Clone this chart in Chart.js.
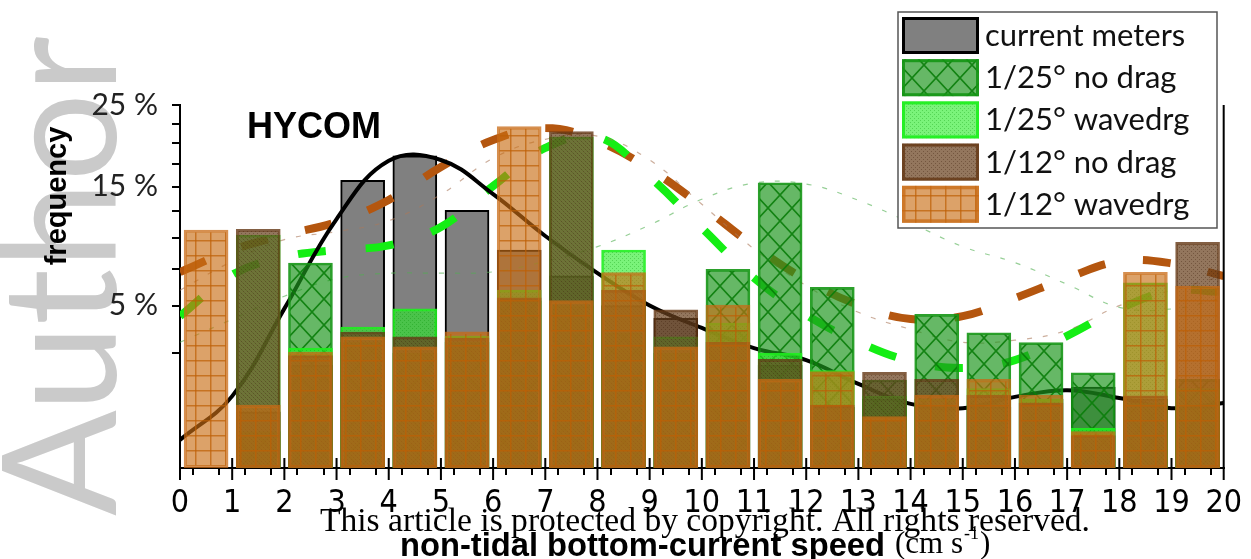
<!DOCTYPE html>
<html>
<head>
<meta charset="utf-8">
<script src="https://cdn.jsdelivr.net/npm/chart.js@4.4.1/dist/chart.umd.min.js"></script>
<style>
  html, body { margin: 0; padding: 0; background: #fff; }
</style>
</head>
<body>
<canvas id="chart" width="1251" height="559"></canvas>
<script>
// histogram bins (left edge, cm/s) and frequencies in %
const speedBins = [0, 1, 2, 3, 4, 5, 6, 7, 8, 9, 10, 11, 12, 13, 14, 15, 16, 17, 18, 19];
const currentMeters = [0, 0.6, 2.0, 15.7, 18.5, 12.6, 9.0, 7.0, 5.0, 4.25, 3.6, 2.0, 0.7, 0.9, 0.7, 0.7, 0.9, 1.24, 0.9, 0.7];
const noDrag25 = [0, 0.25, 7.97, 3.0, 2.5, 3.0, 5.3, 5.0, 3.47, 2.5, 7.49, 15.44, 6.19, 1.47, 4.48, 3.47, 2.98, 1.72, 0.8, 1.49];
const waveDrag25 = [0, 10.3, 2.73, 3.77, 4.8, 3.3, 6.0, 20.8, 9.02, 3.27, 3.99, 2.5, 1.8, 0.98, 0.9, 1.2, 0.9, 0.3, 6.51, 1.2];
const noDrag12 = [0, 10.8, 2.4, 3.51, 3.26, 3.2, 5.5, 21.46, 6.0, 4.74, 3.0, 2.24, 0.75, 1.74, 1.49, 1.0, 0.8, 0.2, 0.99, 9.66];
const waveDrag12 = [10.75, 0.75, 2.55, 3.26, 2.79, 3.52, 22.1, 5.31, 7.24, 2.79, 5.04, 1.49, 1.76, 0.5, 1.01, 1.49, 1.01, 0.25, 7.27, 6.28];

// fitted distributions
const fitSpeed = [0, 1, 2, 3, 4, 5, 6, 7, 8, 9, 10, 11, 12, 13, 14, 15, 16, 17, 18, 19, 20];
const fitMeters = [0.15, 0.98, 4.82, 11.76, 17.9, 18.0, 14.24, 10.21, 7.21, 5.01, 3.72, 2.73, 2.21, 1.34, 0.78, 0.68, 0.96, 1.15, 0.93, 0.68, 0.8];
const fitNoDrag25 = [3.0, 4.2, 5.6, 6.8, 7.2, 7.2, 7.3, 8.1, 9.3, 11.2, 13.7, 15.4, 15.3, 13.6, 11.4, 9.3, 8.0, 6.4, 4.9, 4.8, 5.5];
const fitWaveDrag25 = [4.38, 7.09, 8.45, 9.02, 9.4, 11.02, 15.09, 19.43, 20.79, 16.07, 10.93, 6.85, 4.44, 3.01, 2.17, 1.9, 2.21, 3.31, 4.8, 5.94, 5.88];
const fitNoDrag12 = [6.0, 8.1, 9.9, 10.6, 11.6, 14.2, 18.2, 20.5, 20.9, 18.0, 13.2, 9.1, 6.3, 4.6, 3.65, 3.0, 3.1, 3.6, 5.0, 6.0, 7.0];
const fitWaveDrag12 = [7.29, 9.02, 10.3, 11.48, 13.63, 17.19, 20.41, 21.93, 20.29, 16.96, 13.02, 9.35, 6.71, 5.04, 4.21, 4.38, 5.48, 6.85, 8.1, 7.95, 6.99];

// axis ticks
const xTickValues = [0, 0.5, 1, 1.5, 2, 2.5, 3, 3.5, 4, 4.5, 5, 5.5, 6, 6.5, 7, 7.5, 8, 8.5, 9, 9.5, 10,
  10.5, 11, 11.5, 12, 12.5, 13, 13.5, 14, 14.5, 15, 15.5, 16, 16.5, 17, 17.5, 18, 18.5, 19, 19.5, 20];
const yTickValues = [2.5, 5, 7.5, 10, 12.5, 15, 17.5, 20, 22.5, 25];
const yLabelValues = [5, 15, 25];

// square-root frequency axis
class SqrtScale extends Chart.LinearScale {
    getPixelForValue(value) {
        const lo = Math.sqrt(this.min), hi = Math.sqrt(this.max);
        return this.getPixelForDecimal((Math.sqrt(Math.max(value, 0)) - lo) / (hi - lo));
    }
    getValueForPixel(pixel) {
        const lo = Math.sqrt(this.min), hi = Math.sqrt(this.max);
        const s = lo + this.getDecimalForPixel(pixel) * (hi - lo);
        return s * s;
    }
}
SqrtScale.id = 'sqrt';
SqrtScale.defaults = Chart.LinearScale.defaults;
Chart.register(SqrtScale);

function makePattern(w, h, paint) {
    const c = document.createElement('canvas');
    c.width = w; c.height = h;
    const g = c.getContext('2d');
    paint(g, w, h);
    return g.createPattern(c, 'repeat');
}

const crossGreen = makePattern(24, 26, (g, w, h) => {
    g.fillStyle = 'rgba(30,150,30,0.68)';
    g.fillRect(0, 0, w, h);
    g.strokeStyle = 'rgba(10,125,10,0.9)';
    g.lineWidth = 1.6;
    g.beginPath();
    g.moveTo(0, 0); g.lineTo(w, h);
    g.moveTo(w, 0); g.lineTo(0, h);
    g.stroke();
});
const stippleGreen = makePattern(4, 4, (g, w, h) => {
    g.fillStyle = 'rgba(40,235,40,0.62)';
    g.fillRect(0, 0, w, h);
    g.fillStyle = 'rgba(0,140,0,0.3)';
    g.fillRect(0, 0, 1, 1); g.fillRect(2, 2, 1, 1);
});
const stippleBrown = makePattern(4, 4, (g, w, h) => {
    g.fillStyle = 'rgba(105,65,30,0.72)';
    g.fillRect(0, 0, w, h);
    g.fillStyle = 'rgba(60,30,10,0.35)';
    g.fillRect(1, 1, 1, 1); g.fillRect(3, 3, 1, 1);
});
const gridOrange = makePattern(15, 15, (g, w, h) => {
    g.fillStyle = 'rgba(200,110,20,0.64)';
    g.fillRect(0, 0, w, h);
    g.fillStyle = 'rgba(190,95,5,0.7)';
    g.fillRect(0, 0, w, 1.5);
    g.fillRect(0, 0, 1.5, h);
});

const binPoints = vals => speedBins.map((b, i) => ({ x: b + 0.5, y: vals[i] }));
const fitPoints = vals => fitSpeed.map((s, i) => ({ x: s, y: vals[i] }));

function barSet(label, vals, bg, border, bw, order) {
    return { type: 'bar', label, data: binPoints(vals), backgroundColor: bg, borderColor: border,
             borderWidth: bw, borderSkipped: false, barThickness: 44, grouped: false, order };
}
function lineSet(label, vals, color, width, dash) {
    return { type: 'line', label, data: fitPoints(vals), borderColor: color, borderWidth: width,
             borderDash: dash, pointRadius: 0, tension: 0.4, fill: false, order: 5, isFit: true };
}

const datasets = [
    barSet('current meters', currentMeters, '#808080', '#000000', 2, 6),
    barSet('1/25° no drag', noDrag25, crossGreen, 'rgba(20,150,20,0.9)', 2, 4),
    barSet('1/25° wavedrg', waveDrag25, stippleGreen, 'rgba(30,240,30,0.9)', 2, 3),
    barSet('1/12° no drag', noDrag12, stippleBrown, 'rgba(100,55,20,0.8)', 2, 2),
    barSet('1/12° wavedrg', waveDrag12, gridOrange, 'rgba(200,105,20,0.75)', 2.5, 1),
    lineSet('fit meters', fitMeters, '#000000', 4, []),
    lineSet('fit 1/25 no drag', fitNoDrag25, 'rgba(80,175,80,0.6)', 1.2, [5, 11]),
    lineSet('fit 1/12 no drag', fitNoDrag12, 'rgba(170,120,90,0.6)', 1.2, [5, 11]),
    lineSet('fit 1/25 wavedrg', fitWaveDrag25, '#14ee14', 8, [28, 40]),
    lineSet('fit 1/12 wavedrg', fitWaveDrag12, '#b4560f', 8, [28, 38])
];

const decor = {
    id: 'decor',
    beforeDraw(chart) {
        const ctx = chart.ctx;
        ctx.save();
        ctx.fillStyle = '#fff';
        ctx.fillRect(0, 0, chart.width, chart.height);
        // watermark
        ctx.translate(116, 516);
        ctx.rotate(-Math.PI / 2);
        ctx.font = '160px Lato';
        const w = ctx.measureText('Author').width;
        ctx.scale(480 / w, 1);
        ctx.fillStyle = '#cacaca';
        ctx.textBaseline = 'alphabetic';
        ctx.fillText('Author', 0, 0);
        ctx.restore();
    },
    afterDraw(chart) {
        const ctx = chart.ctx;
        const area = chart.chartArea;
        const xs = chart.scales.x;
        ctx.save();

        // right frame line and long integer ticks
        ctx.strokeStyle = '#000';
        ctx.lineWidth = 2;
        ctx.beginPath();
        ctx.moveTo(area.right, area.top);
        ctx.lineTo(area.right, area.bottom);
        fitSpeed.forEach(v => {
            const px = xs.getPixelForValue(v);
            ctx.moveTo(px, area.bottom - 10);
            ctx.lineTo(px, area.bottom + 12);
        });
        ctx.stroke();

        // panel label
        ctx.fillStyle = '#000';
        ctx.font = 'bold 36px "Liberation Sans", Arial, sans-serif';
        ctx.textAlign = 'center';
        ctx.textBaseline = 'middle';
        ctx.fillText('HYCOM', 314, 128);

        // y title
        ctx.save();
        ctx.translate(58, 196);
        ctx.rotate(-Math.PI / 2);
        ctx.font = 'bold 29px "Liberation Sans", Arial, sans-serif';
        ctx.fillText('frequency', 0, 0);
        ctx.restore();

        // x title
        ctx.textAlign = 'left';
        ctx.textBaseline = 'alphabetic';
        ctx.font = 'bold 33px "Liberation Sans", Arial, sans-serif';
        const bold = 'non-tidal bottom-current speed';
        const bw = ctx.measureText(bold).width;
        ctx.save();
        ctx.translate(400, 556);
        ctx.scale(485 / bw, 1);
        ctx.fillText(bold, 0, 0);
        ctx.restore();
        ctx.font = '31px "Liberation Serif", serif';
        let cx = 895;
        ctx.fillText('(cm s', cx, 553);
        cx += ctx.measureText('(cm s').width;
        ctx.font = '18px "Liberation Serif", serif';
        ctx.fillText('-1', cx + 1, 539);
        cx += ctx.measureText('-1').width + 2;
        ctx.font = '31px "Liberation Serif", serif';
        ctx.fillText(')', cx, 553);

        // copyright note
        ctx.font = '34px "Liberation Serif", serif';
        const note = 'This article is protected by copyright. All rights reserved.';
        const nw = ctx.measureText(note).width;
        ctx.save();
        ctx.translate(320, 531);
        ctx.scale(770 / nw, 1);
        ctx.fillText(note, 0, 0);
        ctx.restore();

        // legend
        const lx = 898, ly = 12, lw = 319, lh = 216;
        ctx.fillStyle = '#fff';
        ctx.fillRect(lx, ly, lw, lh);
        ctx.strokeStyle = '#555';
        ctx.lineWidth = 1.5;
        ctx.strokeRect(lx, ly, lw, lh);
        chart.data.datasets.filter(d => !d.isFit).forEach((d, i) => {
            const sy = 17 + i * 42.2;
            ctx.fillStyle = d.backgroundColor;
            ctx.fillRect(902, sy, 77, 37);
            const b = d.borderWidth + 1;
            ctx.strokeStyle = d.borderColor;
            ctx.lineWidth = b;
            ctx.strokeRect(902 + b / 2, sy + b / 2, 77 - b, 37 - b);
            ctx.fillStyle = '#111';
            ctx.font = '31px Lato, "Open Sans", sans-serif';
            ctx.textBaseline = 'middle';
            ctx.fillText(d.label, 985, sy + 19);
        });
        ctx.restore();
    }
};

new Chart(document.getElementById('chart'), {
    type: 'bar',
    data: { datasets },
    options: {
        responsive: false,
        animation: false,
        events: [],
        layout: { padding: { left: 0, right: 21, top: 105, bottom: 0 } },
        plugins: { legend: { display: false }, tooltip: { enabled: false } },
        scales: {
            x: {
                type: 'linear',
                min: 0, max: 20,
                offset: false,
                afterFit: s => { s.height = 91; },
                afterBuildTicks: s => { s.ticks = xTickValues.map(v => ({ value: v })); },
                grid: { drawOnChartArea: false, drawTicks: true, tickLength: 7, color: '#000', lineWidth: 2 },
                border: { display: true, color: '#000', width: 2 },
                ticks: {
                    autoSkip: false, maxRotation: 0, padding: 9, color: '#000',
                    font: { family: '"Liberation Sans Narrow", "DejaVu Sans Condensed", sans-serif', size: 32 },
                    callback: v => Number.isInteger(v) ? String(v) : ''
                }
            },
            y: {
                type: 'sqrt',
                min: 0, max: 25,
                afterFit: s => { s.width = 180; },
                afterBuildTicks: s => { s.ticks = yTickValues.map(v => ({ value: v })); },
                grid: { drawOnChartArea: false, drawTicks: true, tickLength: 8, color: '#000', lineWidth: 2 },
                border: { display: true, color: '#000', width: 2 },
                ticks: {
                    autoSkip: false, padding: 14, color: '#222',
                    font: { family: 'Lato, "Open Sans", sans-serif', size: 30 },
                    callback: v => yLabelValues.includes(v) ? v + ' %' : ''
                }
            }
        }
    },
    plugins: [decor]
});
</script>
</body>
</html>
